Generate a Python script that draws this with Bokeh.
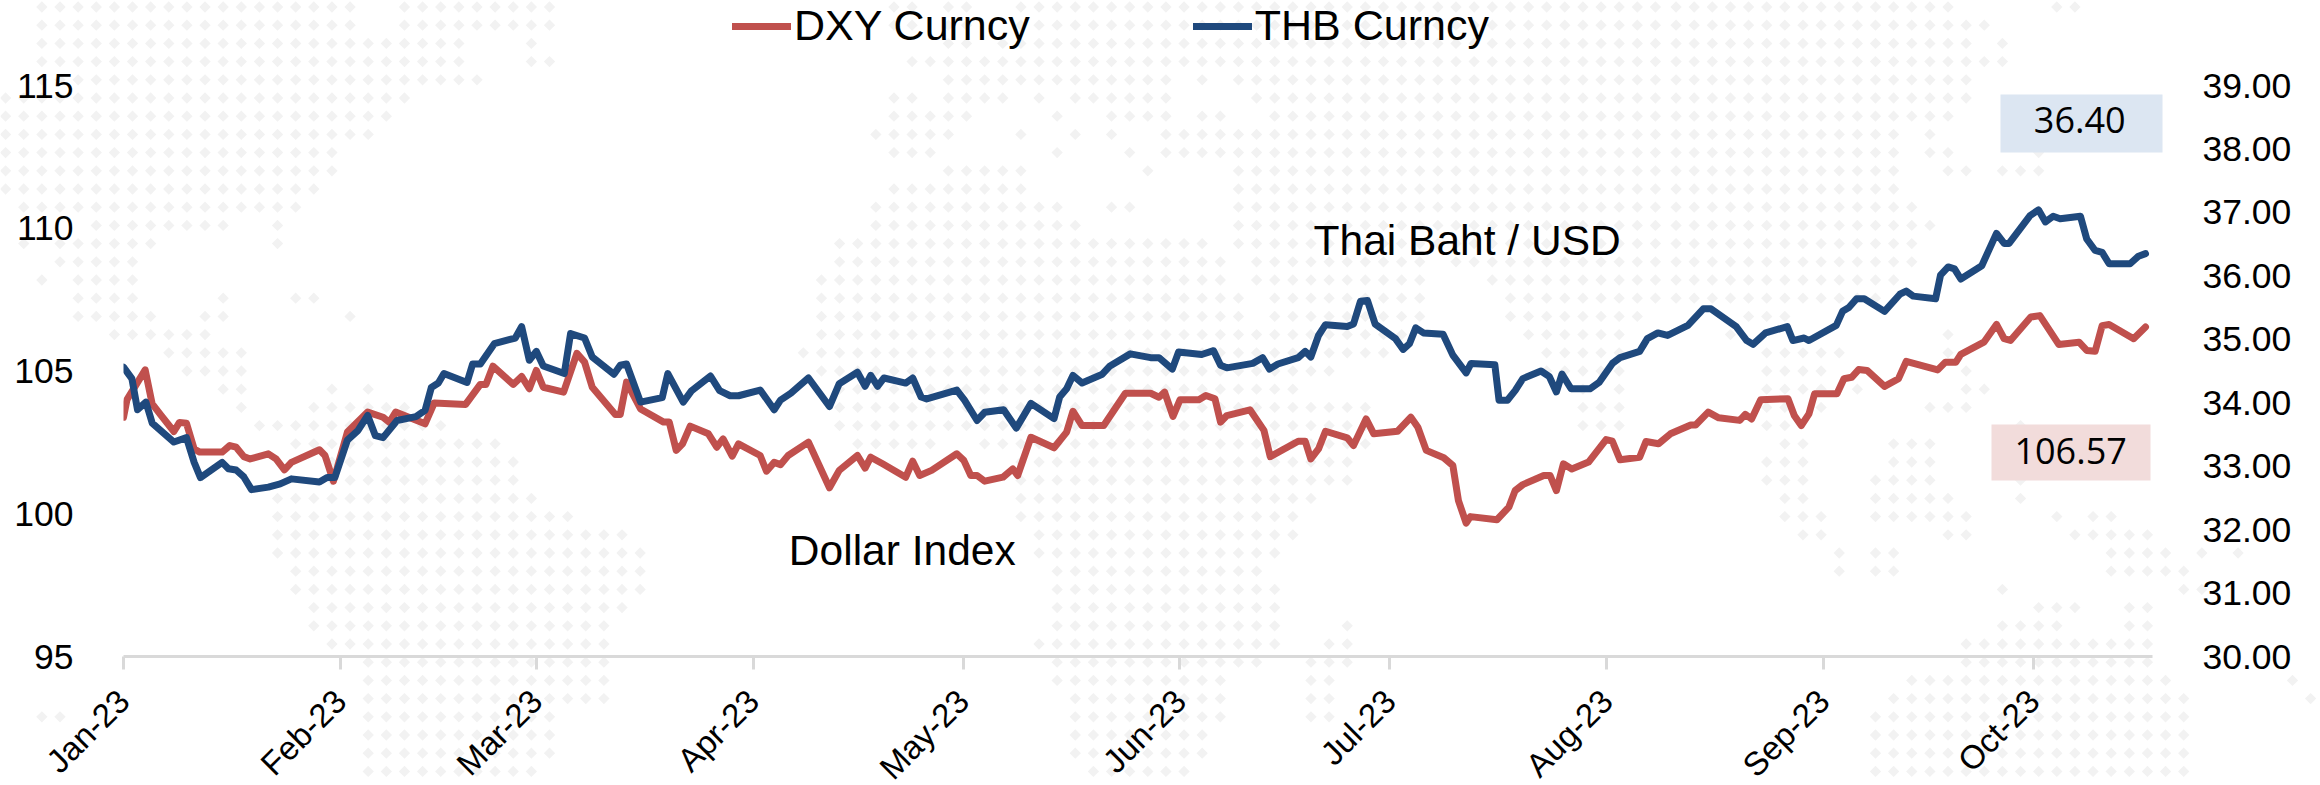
from bokeh.plotting import figure
from bokeh.embed import file_html
from bokeh.resources import INLINE
from bokeh.models import (Range1d, LinearAxis, FixedTicker, PrintfTickFormatter, Legend, LegendItem,
                          Label, BoxAnnotation)
import math

# Days since 1 Jan 2023 and values
DXY_DAYS = [0,0.5,3.1,4.1,5.4,7.2,8,9,10.1,10.9,14.1,15.2,16.1,17.2,18.1,20.7,21.8,23,24,28,28.8,30,32,34.9,37.1,38,38.9,43.1,44.4,48.9,51,51.8,52.8,55.7,56.9,58,59,60,62.9,64.8,65.9,67,70.3,71,71.9,73.9,77.2,78,79,79.9,81,83.6,84.8,85.7,87,87.9,91,91.9,93,93.9,95,97.9,100.9,102.3,104.9,106,106.8,108.5,111.8,112.8,113.8,115.5,119.1,120.1,121.1,122,123.1,125.7,127.1,127.8,129.7,133,134.8,135.7,137,140.1,143.2,146.8,148,148.8,150,151,153.7,154.7,156,156.8,157.7,161,163,163.9,167.9,168.9,169.7,170.8,171.8,174.9,175.8,177.6,178.7,182.1,184,185,186.2,188.7,190,190.8,191.9,192.5,196.3,198,198.9,200,203,203.9,204.8,205.8,207,209.4,211.9,212.8,213.9,216.7,217.6,219.4,221.1,224,224.7,226.5,228,231,231.8,232.7,234,237.9,238.8,239.8,240.9,241.7,244.9,245.9,247,248,249.2,251.7,253.7,254.8,259.3,260.4,261.9,262.6,265.9,267.7,268.8,269.7,272.6,273.9,276.6,279.5,280.6,281.8,282.8,283.8,287.3,289]
DXY_VALUES = [103.38,104.0,105.04,103.85,103.44,102.88,103.2,103.17,102.27,102.16,102.16,102.39,102.33,102.0,101.92,102.1,101.92,101.54,101.8,102.24,102.04,101.14,102.86,103.56,103.38,103.2,103.56,103.15,103.88,103.83,104.53,104.53,105.17,104.53,104.81,104.38,105.02,104.43,104.26,105.62,105.31,104.43,103.48,103.48,104.61,103.67,103.21,103.21,102.22,102.45,103.07,102.8,102.33,102.62,102.02,102.45,102.04,101.49,101.8,101.72,102.04,102.51,100.91,101.52,102.04,101.6,101.98,101.75,101.28,101.84,101.34,101.52,102.1,101.87,101.34,101.34,101.14,101.28,101.57,101.34,102.68,102.31,102.86,103.59,103.09,103.09,104.22,104.22,104.08,104.26,103.41,103.99,103.99,104.14,104.03,103.21,103.44,103.64,102.92,102.0,102.54,102.54,101.92,102.27,102.89,102.66,102.39,103.32,102.8,102.89,103.38,103.03,102.22,101.96,101.69,100.46,99.67,99.9,99.79,100.23,100.81,101.02,101.34,101.34,100.81,101.75,101.57,101.81,102.6,102.54,101.89,101.98,102.53,102.45,102.8,103.11,103.11,103.56,103.36,103.27,103.48,103.32,103.99,104.03,103.44,103.09,103.5,104.2,104.2,104.73,104.78,105.05,105.02,104.46,104.73,105.34,105.04,105.31,105.31,105.58,106.01,106.63,106.13,106.07,106.89,106.94,105.93,106.01,105.72,105.69,106.59,106.63,106.13,106.54]
THB_DAYS = [0,1.2,2,3.2,4.1,7.2,9,10.1,11,14.1,15,16.1,17.2,18.3,20.7,22.4,24,28,29.1,30.2,32,33.5,34.9,36,37.1,39.1,41.8,43.1,44,45,45.8,49.1,49.9,51,53,56,56.9,58,59,60,63,63.9,65.9,67,70.1,71,71.9,73.9,77,77.8,80,81.2,83.9,85.2,86.7,87.9,91,93,93.9,95.4,97.9,100.9,102.3,104.9,106,106.8,107.8,108.7,111.8,112.8,114,114.8,119.1,120.2,122,123.1,125.8,127.6,129.7,133,133.8,134.8,135.7,137,139.9,141,143.9,146.8,148,149.9,150.8,154.1,155.8,156.8,157.7,161.4,162.8,163.8,165,167.9,168.9,169.7,170.8,171.8,174.9,175.8,176.8,177.8,178.9,181.8,182.9,183.8,184.7,185.8,188.6,190,191.9,192.6,196,196.6,197.8,198.9,200,202.6,203.8,204.8,205.6,206.9,209.6,210.9,212.8,213.9,216.7,217.8,219.3,220.7,223.6,225.8,226.9,230.5,232,232.9,234.7,237.8,238.6,240.2,240.9,244.8,245.7,246.6,247.7,248.8,251.7,253.9,254.8,255.8,259,259.7,260.8,261.7,262.6,265.6,267.7,268.8,269.5,272.5,273.7,274.7,275.8,276.8,279.7,280.6,281.8,282.8,283.8,286.8,288,289]
THB_VALUES = [34.56,34.38,33.89,34.01,33.68,33.38,33.45,33.06,32.82,33.06,32.96,32.94,32.83,32.63,32.67,32.72,32.8,32.75,32.82,32.82,33.41,33.56,33.8,33.48,33.45,33.72,33.78,33.88,34.24,34.31,34.46,34.32,34.61,34.61,34.93,35.02,35.2,34.67,34.81,34.58,34.46,35.09,35.02,34.72,34.45,34.59,34.61,34.01,34.08,34.46,34.01,34.19,34.42,34.19,34.11,34.11,34.2,33.89,34.04,34.15,34.39,33.94,34.3,34.48,34.26,34.43,34.26,34.39,34.31,34.39,34.09,34.06,34.2,34.04,33.72,33.85,33.89,33.6,33.99,33.75,34.09,34.22,34.43,34.31,34.45,34.58,34.77,34.71,34.71,34.53,34.8,34.76,34.82,34.59,34.55,34.62,34.71,34.53,34.61,34.71,34.81,34.72,35.06,35.23,35.2,35.24,35.6,35.61,35.24,35.01,34.84,34.93,35.18,35.1,35.08,34.75,34.47,34.62,34.6,34.04,34.04,34.19,34.38,34.5,34.41,34.17,34.45,34.22,34.22,34.32,34.62,34.71,34.81,35.01,35.1,35.06,35.22,35.48,35.48,35.2,34.98,34.92,35.1,35.2,34.98,35.02,34.98,35.22,35.44,35.5,35.64,35.64,35.44,35.71,35.76,35.68,35.64,36.01,36.14,36.11,35.95,36.16,36.67,36.51,36.51,36.95,37.04,36.85,36.94,36.9,36.94,36.58,36.4,36.37,36.19,36.19,36.31,36.35]

MONTH_DAYS = [0,31,59,90,120,151,181,212,243,273]
MONTH_LABELS = ["Jan-23","Feb-23","Mar-23","Apr-23","May-23","Jun-23","Jul-23","Aug-23","Sep-23","Oct-23"]
LEFT_TICKS = [95,100,105,110,115]
RIGHT_TICKS = [30,31,32,33,34,35,36,37,38,39]

# Dotted world map behind the chart: for each row, runs of occupied grid columns
MAP_ROWS = [
 [(2,19),(22,30),(49,50),(52,53),(56,107),(113,114)],
 [(2,19),(22,30),(49,50),(52,53),(56,109)],
 [(2,25),(29,29),(52,53),(55,108),(110,110)],
 [(2,25),(29,30),(50,110)],
 [(2,26),(52,64),(66,66),(68,108)],
 [(0,22),(49,50),(52,55),(57,57),(59,64),(69,108)],
 [(0,21),(49,53),(58,58),(61,64),(66,67),(70,107)],
 [(0,20),(48,52),(56,56),(59,59),(61,61),(64,104),(106,106)],
 [(0,18),(49,51),(58,58),(62,62),(64,104),(106,107),(112,112)],
 [(0,18),(52,56),(63,63),(68,104),(107,108),(110,112)],
 [(0,17),(49,56),(68,104)],
 [(1,16),(48,58),(61,62),(68,105)],
 [(5,12),(15,15),(48,59),(68,106)],
 [(1,1),(3,8),(15,15),(46,66),(68,105)],
 [(3,7),(46,67),(69,78),(80,105)],
 [(2,2),(4,7),(45,67),(69,78),(82,104)],
 [(4,7),(12,12),(16,17),(45,68),(70,78),(83,103)],
 [(4,8),(11,12),(19,19),(45,68),(70,78),(83,90),(96,98)],
 [(6,11),(45,69),(70,77),(84,89),(95,95),(107,107)],
 [(9,13),(44,73),(74,76),(85,89),(97,101),(107,107)],
 [(10,13),(45,73),(85,89),(97,100),(108,108)],
 [(12,13),(18,18),(20,20),(46,71),(87,87),(89,89),(97,100),(102,102),(108,109)],
 [(13,13),(17,22),(46,75),(87,89),(97,98),(100,100),(106,108)],
 [(14,24),(46,75),(87,89),(97,98),(111,111)],
 [(16,27),(47,51),(54,75),(98,99),(104,106)],
 [(18,28),(56,74),(97,99),(104,106)],
 [(18,28),(56,74),(97,99),(103,106),(111,111)],
 [(15,29),(56,72),(98,99),(103,107),(111,111)],
 [(15,31),(56,71),(98,100),(103,108),(113,113),(115,116)],
 [(15,34),(57,71),(99,100),(107,108),(114,118)],
 [(15,35),(57,70),(101,101),(103,104),(116,119),(121,121),(123,123)],
 [(16,35),(58,69),(101,101),(103,104),(116,120)],
 [(16,35),(58,70),(110,110),(120,121)],
 [(17,34),(58,70),(112,114),(117,118)],
 [(17,33),(58,70),(74,74),(110,113),(117,118)],
 [(18,33),(57,70),(73,74),(108,118)],
 [(20,33),(58,69),(72,74),(108,118)],
 [(20,33),(58,67),(72,73),(105,119),(126,126)],
 [(20,33),(59,67),(72,73),(104,120),(127,127)],
 [(2,3),(20,30),(59,67),(72,73),(103,120)],
 [(20,30),(59,66),(103,120)],
 [(20,30),(59,66),(103,120)],
 [(20,29),(60,65),(103,120)],
]

FONT = "Liberation Sans"
RED = "#C0504D"
BLUE = "#1F497D"
W, H = 2320, 785

# Background figure: map, legend and boxes on a canvas-wide frame, in canvas pixels
mx, my = [], []
for r, runs in enumerate(MAP_ROWS):
    for a, b in runs:
        for c in range(a, b + 1):
            mx.append(5.1 + 18.13 * c + (2.5 if c >= 92 else 0))
            my.append(6.5 + 18.2 * r)
bg = figure(width=W, height=H, output_backend="svg", toolbar_location=None,
            x_range=Range1d(0, W), y_range=Range1d(H, 0),
            min_border=0, outline_line_color=None, x_axis_location=None, y_axis_location=None)
bg.grid.visible = False
bg.scatter(mx, my, marker="square", angle=math.pi/4, size=8, fill_color="#F2F2F2", line_color=None)

# Legend keys: off-canvas stand-ins styled like the two series
k1 = bg.line([-50, -40], [-50, -50], line_color=RED, line_width=7, line_cap="round")
k2 = bg.line([-50, -40], [-50, -50], line_color=BLUE, line_width=7, line_cap="round")
legend = Legend(items=[LegendItem(label="DXY Curncy", renderers=[k1]),
                       LegendItem(label="THB Curncy", renderers=[k2])],
                orientation="horizontal", location=(732, 735), padding=0, margin=0,
                glyph_width=59, glyph_height=30, label_standoff=3, spacing=163,
                label_text_font=FONT, label_text_font_size="43px", label_text_color="#000000",
                border_line_color=None, background_fill_alpha=0)
bg.add_layout(legend, "center")

bg.add_layout(BoxAnnotation(left=2000, right=2162, top=94, bottom=152,
                            fill_color="#DCE6F2", fill_alpha=1, line_color=None))
bg.add_layout(BoxAnnotation(left=1991, right=2150, top=424, bottom=480,
                            fill_color="#F2DCDB", fill_alpha=1, line_color=None))

# Chart figure, transparent, laid over the background
p = figure(frame_width=2029, frame_height=571, output_backend="svg", toolbar_location=None,
           x_range=Range1d(0, 290), y_range=Range1d(95, 115),
           min_border_left=123, min_border_right=168, min_border_top=85, min_border_bottom=129,
           background_fill_color=None, border_fill_color=None, outline_line_color=None,
           margin=(-H, 0, 0, 0))
p.grid.visible = False
p.extra_y_ranges = {"thb": Range1d(30, 39)}

xa = p.xaxis[0]
xa.ticker = FixedTicker(ticks=MONTH_DAYS)
xa.major_label_overrides = dict(zip(MONTH_DAYS, MONTH_LABELS))
xa.major_label_orientation = math.pi / 4
xa.major_label_text_font = FONT
xa.major_label_text_font_size = "33px"
xa.major_label_text_color = "#000000"
xa.major_label_standoff = 26
xa.axis_line_color = "#D9D9D9"
xa.axis_line_width = 3
xa.major_tick_line_color = "#D9D9D9"
xa.major_tick_line_width = 3
xa.major_tick_in = 0
xa.major_tick_out = 13
xa.minor_tick_line_color = None

ya = p.yaxis[0]
ya.ticker = FixedTicker(ticks=LEFT_TICKS)
ra = LinearAxis(y_range_name="thb", ticker=FixedTicker(ticks=RIGHT_TICKS),
                formatter=PrintfTickFormatter(format="%.2f"))
p.add_layout(ra, "right")
for ax, st in ((ya, 44), (ra, 44)):
    ax.axis_line_color = None
    ax.major_tick_line_color = None
    ax.minor_tick_line_color = None
    ax.major_label_text_font = FONT
    ax.major_label_text_font_size = "35.5px"
    ax.major_label_text_color = "#000000"
    ax.major_label_standoff = st

p.line(DXY_DAYS, DXY_VALUES, line_color=RED, line_width=7, line_join="round", line_cap="round")
p.line(THB_DAYS, THB_VALUES, line_color=BLUE, line_width=7, line_join="round", line_cap="round",
       y_range_name="thb")

def note(x, y, text, size, font=FONT, align="left"):
    p.add_layout(Label(x=x, y=y, text=text, text_font=font, text_font_size=size,
                       text_align=align, text_baseline="middle", text_color="#000000"))

note(170.1, 109.57, "Thai Baht / USD", "42.5px")
note(95.1, 98.71, "Dollar Index", "42.5px")
note(279.6, 113.78, "36.40", "36px", "Open Sans", "center")
note(278.3, 102.19, "106.57", "36px", "Open Sans", "center")

open("out.html", "w").write(file_html([bg, p], INLINE))
